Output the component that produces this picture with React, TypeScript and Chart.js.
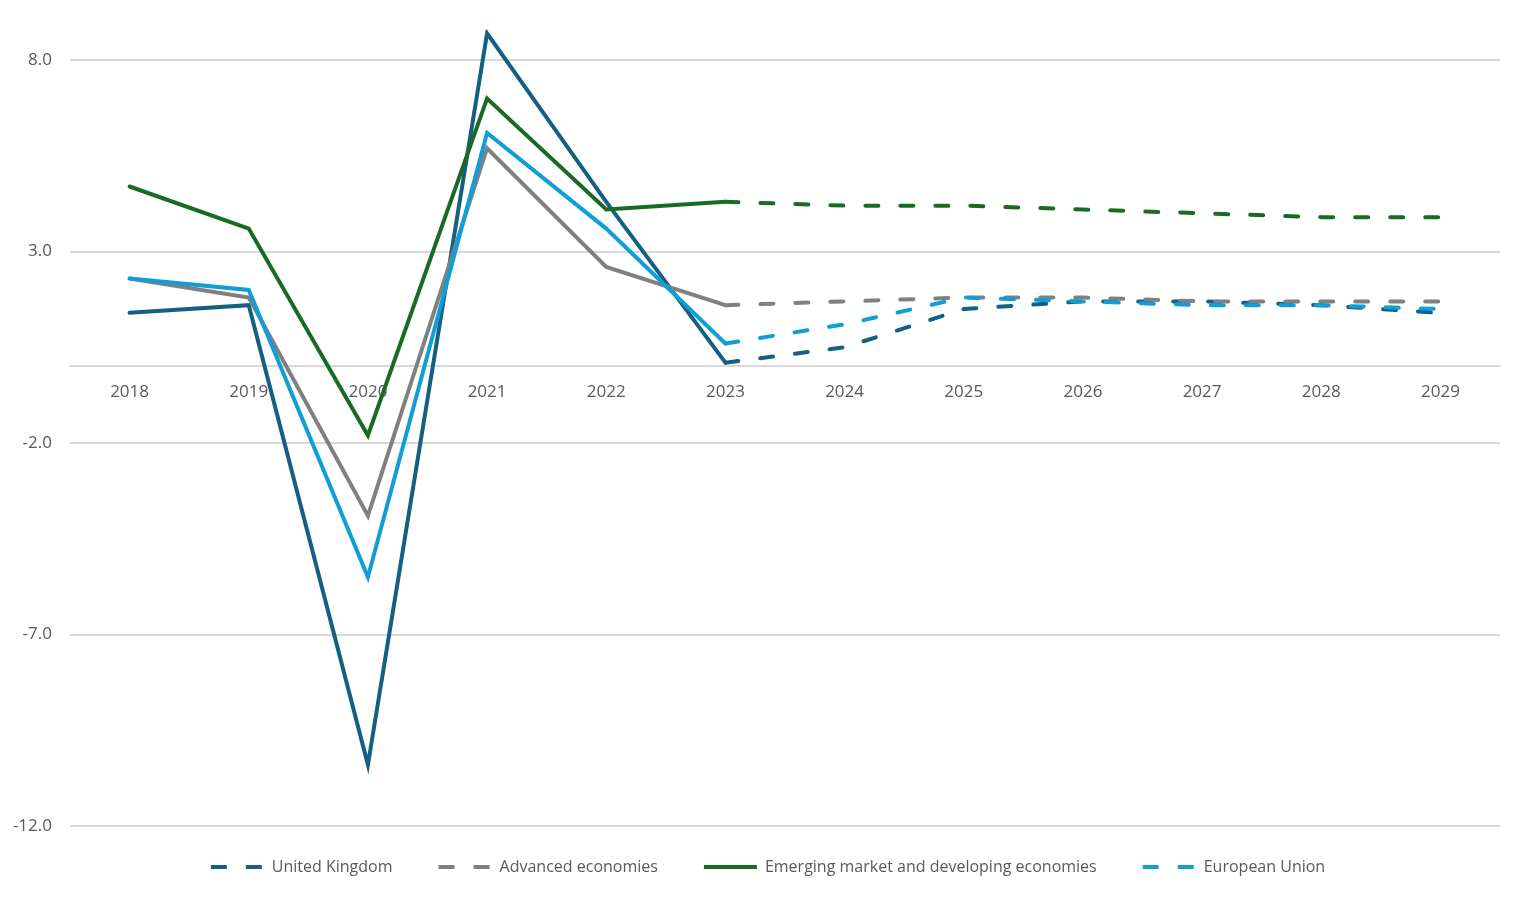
import React, { useEffect, useRef } from 'react';
import { Chart, registerables } from 'chart.js';

Chart.register(...registerables);

// ---- Data ----
const years = ['2018', '2019', '2020', '2021', '2022', '2023', '2024', '2025', '2026', '2027', '2028', '2029'];
const seriesNames = ['United Kingdom', 'Advanced economies', 'Emerging market and developing economies', 'European Union'];
const ukGrowth = [1.4, 1.6, -10.4, 8.7, 4.3, 0.1, 0.5, 1.5, 1.7, 1.7, 1.6, 1.4];
const advancedGrowth = [2.3, 1.8, -3.9, 5.7, 2.6, 1.6, 1.7, 1.8, 1.8, 1.7, 1.7, 1.7];
const emdeGrowth = [4.7, 3.6, -1.8, 7.0, 4.1, 4.3, 4.2, 4.2, 4.1, 4.0, 3.9, 3.9];
const euGrowth = [2.3, 2.0, -5.5, 6.1, 3.6, 0.6, 1.1, 1.8, 1.7, 1.6, 1.6, 1.5];
const yTickValues = [-12, -7, -2, 3, 8];
const forecastStartIndex = 5; // projections (dashed) start from 2023
const legendDashed = [true, true, false, true];

const seriesColors = ['#156082', '#808080', '#196B24', '#0F9ED5'];

export default function App() {
  const canvasRef = useRef<HTMLCanvasElement>(null);

  useEffect(() => {
    if (!canvasRef.current) return;
    const lineDash = [13, 22];
    const legendLineDash = [16, 19];
    const values = [ukGrowth, advancedGrowth, emdeGrowth, euGrowth];
    const fontFamily = '"Open Sans", "Liberation Sans", sans-serif';

    const legendShift = {
      id: 'legendShift',
      afterLayout(chart: any) {
        const lg = chart.legend;
        if (lg) {
          lg.top -= 13;
          lg.bottom -= 13;
          lg.left += 18;
          lg.right += 18;
        }
      },
    };

    const chart = new Chart(canvasRef.current, {
      type: 'line',
      data: {
        labels: years,
        datasets: values.map((v, i) => ({
          label: seriesNames[i],
          data: v,
          borderColor: seriesColors[i],
          backgroundColor: seriesColors[i],
          borderWidth: 4,
          borderCapStyle: 'round' as const,
          pointRadius: 0,
          pointHoverRadius: 0,
          tension: 0,
          fill: false,
          order: 4 - i,
          segment: {
            borderDash: (ctx: any) => (ctx.p0DataIndex >= forecastStartIndex ? lineDash : undefined),
          },
        })),
      },
      options: {
        responsive: true,
        maintainAspectRatio: false,
        animation: false,
        layout: { padding: { left: 0, right: 22, top: 29.5, bottom: 0 } },
        font: { family: fontFamily },
        scales: {
          x: {
            type: 'category',
            offset: true,
            position: { y: 0 } as any,
            grid: { display: false, drawTicks: false },
            border: { display: true, color: '#d9d9d9', width: 2 },
            ticks: {
              color: '#595959',
              font: { size: 17, family: fontFamily },
              padding: 15,
              maxRotation: 0,
              autoSkip: false,
            },
          },
          y: {
            type: 'linear',
            min: -12,
            max: 8.8,
            afterBuildTicks: (scale: any) => {
              scale.ticks = yTickValues.map((v) => ({ value: v }));
            },
            afterFit: (scale: any) => {
              scale.width = 70;
            },
            grid: { color: '#d9d9d9', lineWidth: 2, drawTicks: false },
            border: { display: false },
            ticks: {
              color: '#595959',
              font: { size: 17, family: fontFamily },
              padding: 18,
              callback: (v: any) => Number(v).toFixed(1),
            },
          },
        },
        plugins: {
          legend: {
            position: 'bottom',
            labels: {
              usePointStyle: true,
              pointStyle: 'line',
              pointStyleWidth: 53,
              padding: 46,
              color: '#595959',
              font: { size: 16, family: fontFamily },
              sort: (a: any, b: any) => a.datasetIndex - b.datasetIndex,
              generateLabels: (c: any) =>
                Chart.defaults.plugins.legend.labels.generateLabels(c).map((l: any) => ({
                  ...l,
                  lineDash: legendDashed[l.datasetIndex] ? legendLineDash : [],
                  lineWidth: 4,
                })),
            },
          },
          tooltip: { enabled: false },
        },
      },
      plugins: [legendShift],
    });

    return () => chart.destroy();
  }, []);

  return (
    <div style={{ position: 'fixed', left: 0, top: 0, width: 1522, height: 898, background: '#ffffff' }}>
      <canvas ref={canvasRef} />
    </div>
  );
}
